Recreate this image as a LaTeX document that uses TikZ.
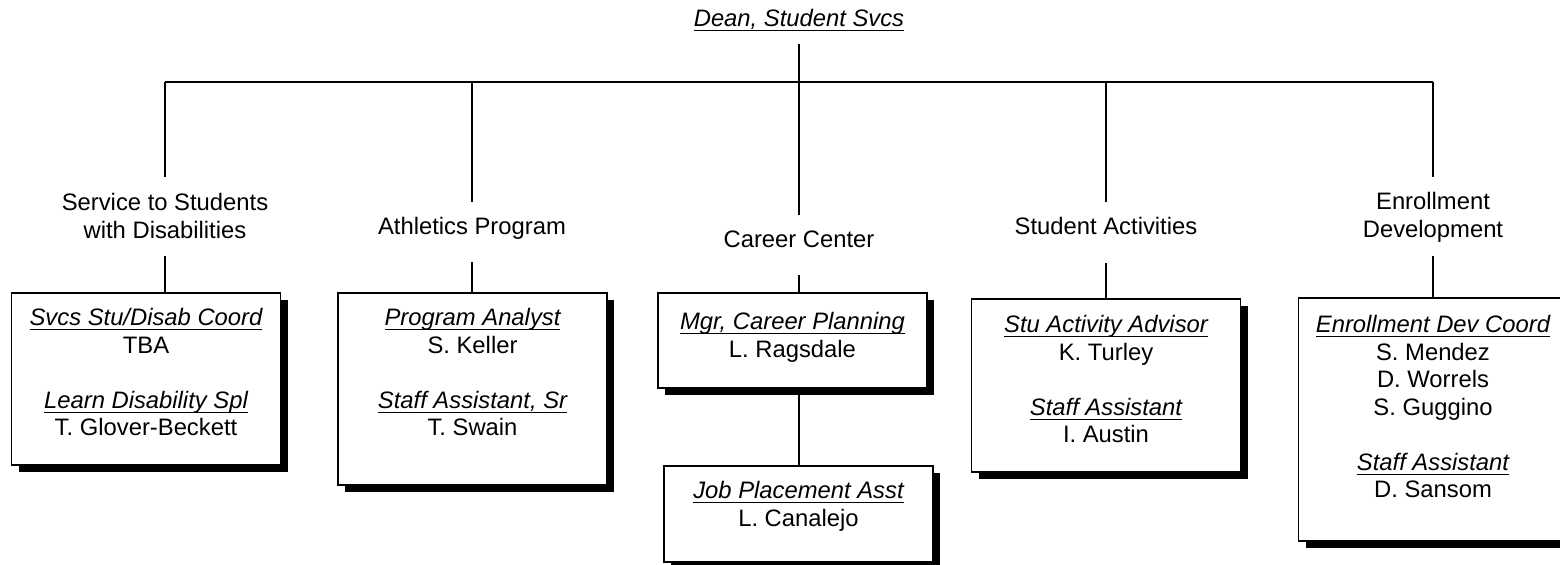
\documentclass[tikz,border=0pt]{standalone}
\usepackage{fontspec}
\setmainfont{Liberation Sans}
\usetikzlibrary{shadows}
\newcommand\ulit[1]{\setbox0\hbox{\itshape #1}\rlap{\rule[-2.2pt]{\wd0}{0.65pt}}\box0}
\begin{document}
\begin{tikzpicture}[x=0.5pt,y=-0.5pt,
  every node/.style={font=\fontsize{11.9pt}{13.75pt}\selectfont, inner sep=0pt, align=center},
  conn/.style={line width=0.9pt},
  box/.style={draw, fill=white, line width=0.9pt, minimum width=134.5pt,
    drop shadow={shadow xshift=3.5pt, shadow yshift=-3.5pt, fill=black, opacity=1}},
  lbl/.style={anchor=base}]
\useasboundingbox (0,0) rectangle (1560,565);
\clip (0,0) rectangle (1560,565);

% top
\node[lbl] (dean) at (799,27) {\ulit{Dean, Student Svcs}};
\coordinate (j1) at (165,82);
\coordinate (j2) at (472,82);
\coordinate (j3) at (799,82);
\coordinate (j4) at (1106,82);
\coordinate (j5) at (1433,82);
\draw[conn] (j1) -- (j5);
\draw[conn, shorten <=6.3pt] (dean.south) -- (j3);

% labels (anchored at the baseline of the last line)
\node[lbl] (l1) at (165,238.5) {Service to Students\\with Disabilities};
\node[lbl] (l2) at (472,235) {Athletics Program};
\node[lbl] (l3) at (799,248) {Career Center};
\node[lbl] (l4) at (1106,235) {Student Activities};
\node[lbl] (l5) at (1433,237.5) {Enrollment\\Development};

% boxes
\node[box, minimum height=86pt] (b1) at (146,379) {};
\node[box, minimum height=96pt] (b2) at (472.5,389) {};
\node[box, minimum height=47.5pt] (b3) at (792.5,340.5) {};
\node[box, minimum height=48pt] (b3b) at (798.5,514) {};
\node[box, minimum height=86.5pt] (b4) at (1106,385.5) {};
\node[box, minimum height=121.5pt] (b5) at (1433,419.5) {};

% connectors bus -> labels
\draw[conn, shorten >=8.4pt] (j1) -- (l1.north);
\draw[conn, shorten >=7.9pt] (j2) -- (l2.north);
\draw[conn, shorten >=7.9pt] (j3) -- (l3.north);
\draw[conn, shorten >=7.9pt] (j4) -- (l4.north);
\draw[conn, shorten >=7.9pt] (j5) -- (l5.north);

% labels -> boxes
\draw[conn, shorten <=8.5pt] (l1.south) -- (l1.south |- b1.north);
\draw[conn, shorten <=11pt] (l2.south) -- (l2.south |- b2.north);
\draw[conn, shorten <=13pt] (l3.south) -- (l3.south |- b3.north);
\draw[conn, shorten <=13.5pt] (l4.south) -- (l4.south |- b4.north);
\draw[conn, shorten <=6.5pt] (l5.south) -- (l5.south |- b5.north);
\draw[conn] (b3.south -| j3) -- (b3b.north -| j3);

% box texts (anchored at the baseline of the last line)
\node[lbl] (t1) at (146,436) {\ulit{Svcs Stu/Disab Coord}\\TBA\\[13.75pt]\ulit{Learn Disability Spl}\\T. Glover-Beckett};
\node[lbl] (t2) at (472.5,436) {\ulit{Program Analyst}\\S. Keller\\[13.75pt]\ulit{Staff Assistant, Sr}\\T. Swain};
\node[lbl] (t3) at (792.5,357.5) {\ulit{Mgr, Career Planning}\\L. Ragsdale};
\node[lbl] (t3b) at (798.5,526.5) {\ulit{Job Placement Asst}\\L. Canalejo};
\node[lbl] (t4) at (1106,443) {\ulit{Stu Activity Advisor}\\K. Turley\\[13.75pt]\ulit{Staff Assistant}\\I. Austin};
\node[lbl] (t5) at (1433,498) {\ulit{Enrollment Dev Coord}\\S. Mendez\\D. Worrels\\S. Guggino\\[13.75pt]\ulit{Staff Assistant}\\D. Sansom};
\end{tikzpicture}
\end{document}
